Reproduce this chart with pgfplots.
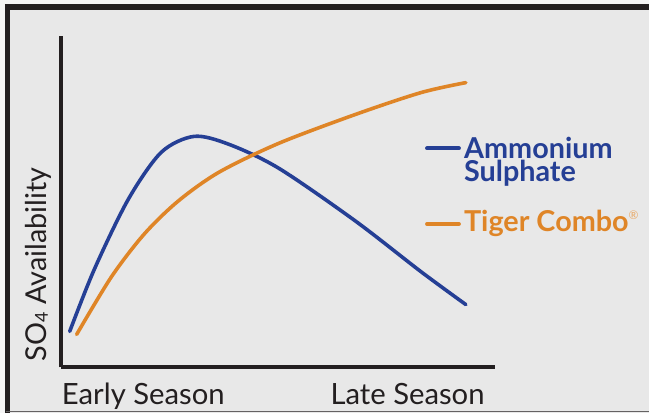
\documentclass[border=0pt]{standalone}
\usepackage{pgfplots}
\pgfplotsset{compat=1.18}
\usepackage{fontspec}
\setmainfont{Lato}
\definecolor{bg}{HTML}{E8E8E8}
\definecolor{frame}{HTML}{231F20}
\definecolor{myblue}{HTML}{253F95}
\definecolor{myorange}{HTML}{DF8527}
\begin{document}
\begin{tikzpicture}[x=1bp,y=1bp]
\fill[white!96!black] (0,0) rectangle (652,415);
\fill[bg] (6,0) rectangle (652,411);
\draw[frame,line width=6bp] (5,408) -- (652,408);
\draw[frame,line width=5bp] (8,0) -- (8,411);
\draw[frame!70,line width=1bp] (6,1.5) -- (652,1.5);
\begin{axis}[
  at={(61bp,46bp)}, anchor=south west,
  scale only axis, width=436bp, height=333bp,
  xmin=61, xmax=497, ymin=46, ymax=379,
  axis lines*=left,
  axis line style={frame, line width=4bp, -},
  xtick=\empty, ytick=\empty,
  clip=false,
]
\addplot[myblue, line width=3.6bp, smooth, line cap=round] coordinates {
(70,82)(95,145)(129,215)(162,262)(195,278)(230,270)(280,246)(357,193)(423,142)(468,109)
};
\addplot[myorange, line width=3.6bp, smooth, line cap=round] coordinates {
(77,79)(112,137)(145,180)(179,213)(220,242)(280,271)(357,300)(423,322)(468,332)
};
\end{axis}
\node[anchor=base west, inner sep=0, text=frame, font=\fontsize{29.5}{29.5}\selectfont] at (62,9) {Early Season};
\node[anchor=base east, inner sep=0, text=frame, font=\fontsize{29.5}{29.5}\selectfont] at (487,9) {Late Season};
\node[anchor=base west, inner sep=0, rotate=90, text=frame, font=\fontsize{29}{29}\selectfont] at (47,52) {SO{\fontsize{18}{18}\selectfont\raisebox{-1bp}{4}} Availability};
\draw[myblue, line width=4bp, line cap=round] (429,266) -- (461,266);
\draw[myorange, line width=4bp, line cap=round] (429,190) -- (461,190);
\node[anchor=base west, inner sep=0, align=left, text=myblue, font=\fontsize{29}{23}\selectfont\bfseries] at (466,233) {Ammonium\\Sulphate};
\node[anchor=base west, inner sep=0, text=myorange, font=\fontsize{29}{29}\selectfont\bfseries] at (466,182) {Tiger Combo{\fontsize{12}{12}\selectfont\mdseries\raisebox{12bp}{\textcolor{myorange!70}{®}}}};
\end{tikzpicture}
\end{document}
